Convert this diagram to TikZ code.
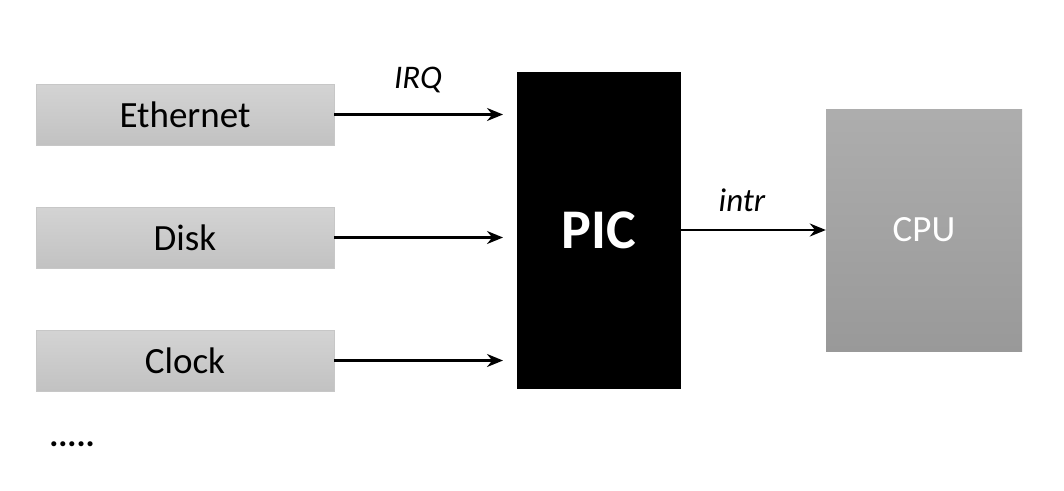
\documentclass[tikz,border=0pt]{standalone}
\usepackage{fontspec}
\setmainfont{Carlito}
\usetikzlibrary{arrows.meta}
\begin{document}
\begin{tikzpicture}[x=1pt,y=-1pt,
  dev/.style={draw=black!22,line width=0.8pt,top color=black!17,bottom color=black!24,minimum width=298pt,minimum height=61pt,inner sep=0pt,font=\fontsize{37}{42}\selectfont},
  conn/.style={line width=2.3pt,-{Stealth[length=16pt,width=13pt]}},
  lab/.style={font=\fontsize{33}{38}\selectfont\itshape,inner sep=0pt}]
\useasboundingbox (0,0) rectangle (1064,490);
\node[dev] (eth) at (185,114.5) {Ethernet};
\node[dev] (disk) at (185,237.5) {Disk};
\node[dev] (clk) at (185,360.5) {Clock};
\node[fill=black,minimum width=164pt,minimum height=317pt,inner sep=0pt,text=white,font=\fontsize{56}{60}\selectfont\bfseries] (pic) at (599,230.5) {PIC};
\node[top color=black!32,bottom color=black!40,minimum width=196pt,minimum height=242pt,inner sep=0pt,text=white,font=\fontsize{37}{42}\selectfont] (cpu) at (924,230) {CPU};
\coordinate (p1) at (503,114.5);
\coordinate (p2) at (503,237.5);
\coordinate (p3) at (503,360.5);
\draw[conn] (eth.east) -- (p1);
\draw[conn] (disk.east) -- (p2);
\draw[conn] (clk.east) -- (p3);
\draw[conn] (pic.east |- cpu.west) -- (cpu.west);
\node[lab] (irq) at (418,80) {IRQ};
\node[lab] (intr) at (742,200) {intr};
\node[font=\fontsize{34}{40}\selectfont\bfseries,inner sep=0pt] (dots) at (72,444) {.....};
\end{tikzpicture}
\end{document}
